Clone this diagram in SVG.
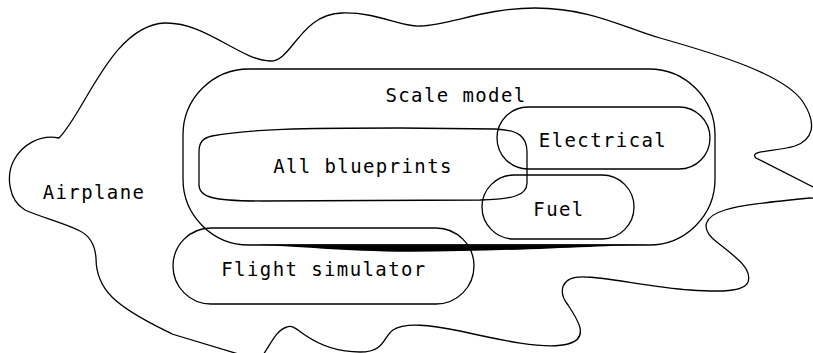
<svg xmlns="http://www.w3.org/2000/svg" width="813" height="353" viewBox="0 0 813 353">
<style>
.o{fill:none;stroke:#000;stroke-width:1.3}
.t{font-family:"DejaVu Sans Mono","Liberation Mono",monospace;font-size:19px;letter-spacing:1.4px;fill:#000;text-anchor:middle}
</style>
<rect width="813" height="353" fill="#fff"/>
<g id="airplane">
<path class="o" d="M 59,138 C 85,112 112,25 165,23 C 205,22 240,60 270,61 C 292,62 300,14 342,13 C 378,12 400,27 420,26 C 450,25 485,8 535,8 C 590,8 625,28 660,38 C 720,55 785,75 803,102 C 818,125 812,140 795,146 C 775,152 748,150 756,158 L 813,187 L 830,195 C 830,200 820,198 810,198 C 770,202 740,205 725,210 C 705,216 698,228 718,243 C 740,260 752,270 748,282 C 744,292 720,292 690,290 C 650,287 605,277 585,277 C 560,276 558,292 568,305 C 578,320 590,338 568,344 C 545,350 500,340 460,331 C 430,325 405,322 393,330 C 383,337 385,352 360,352 C 335,352 318,344 305,335 C 295,328 292,325 287,327 C 275,330 268,350 262,356 L 245,356 L 172,334 C 165,330 130,315 112,297 C 100,285 96,270 96,258 C 95,245 90,236 80,231 C 65,223 40,217 25,210 C 8,200 6,175 14,160 C 22,145 40,134 59,138 Z"/>
<text class="t" x="94" y="199">Airplane</text>
</g>
<g id="scale-model">
<rect class="o" x="183" y="69" width="532" height="176" rx="66"/>
<path d="M 255,244.4 L 650,244.4 C 600,246 500,251.5 410,251.8 C 340,251 300,246.5 255,244.4 Z" fill="#000"/>
<text class="t" x="456" y="102">Scale model</text>
</g>
<g id="all-blueprints">
<path class="o" d="M 212,136 C 250,129 300,128 400,128 L 495,129 C 518,130 527,136 527,152 L 527,183 C 527,196 512,199 480,200 L 262,201 C 212,201 199,197 199,185 L 199,152 C 199,142 203,138 212,136 Z"/>
<text class="t" x="363" y="173">All blueprints</text>
</g>
<g id="electrical">
<rect class="o" x="497" y="107" width="213" height="62" rx="31"/>
<text class="t" x="603" y="147">Electrical</text>
</g>
<g id="fuel">
<rect class="o" x="482" y="175" width="152" height="64" rx="32"/>
<text class="t" x="559" y="216">Fuel</text>
</g>
<g id="flight-simulator">
<rect class="o" x="173" y="228" width="301" height="76" rx="38"/>
<text class="t" x="324" y="276">Flight simulator</text>
</g>
<g id="connectors"></g>
</svg>
